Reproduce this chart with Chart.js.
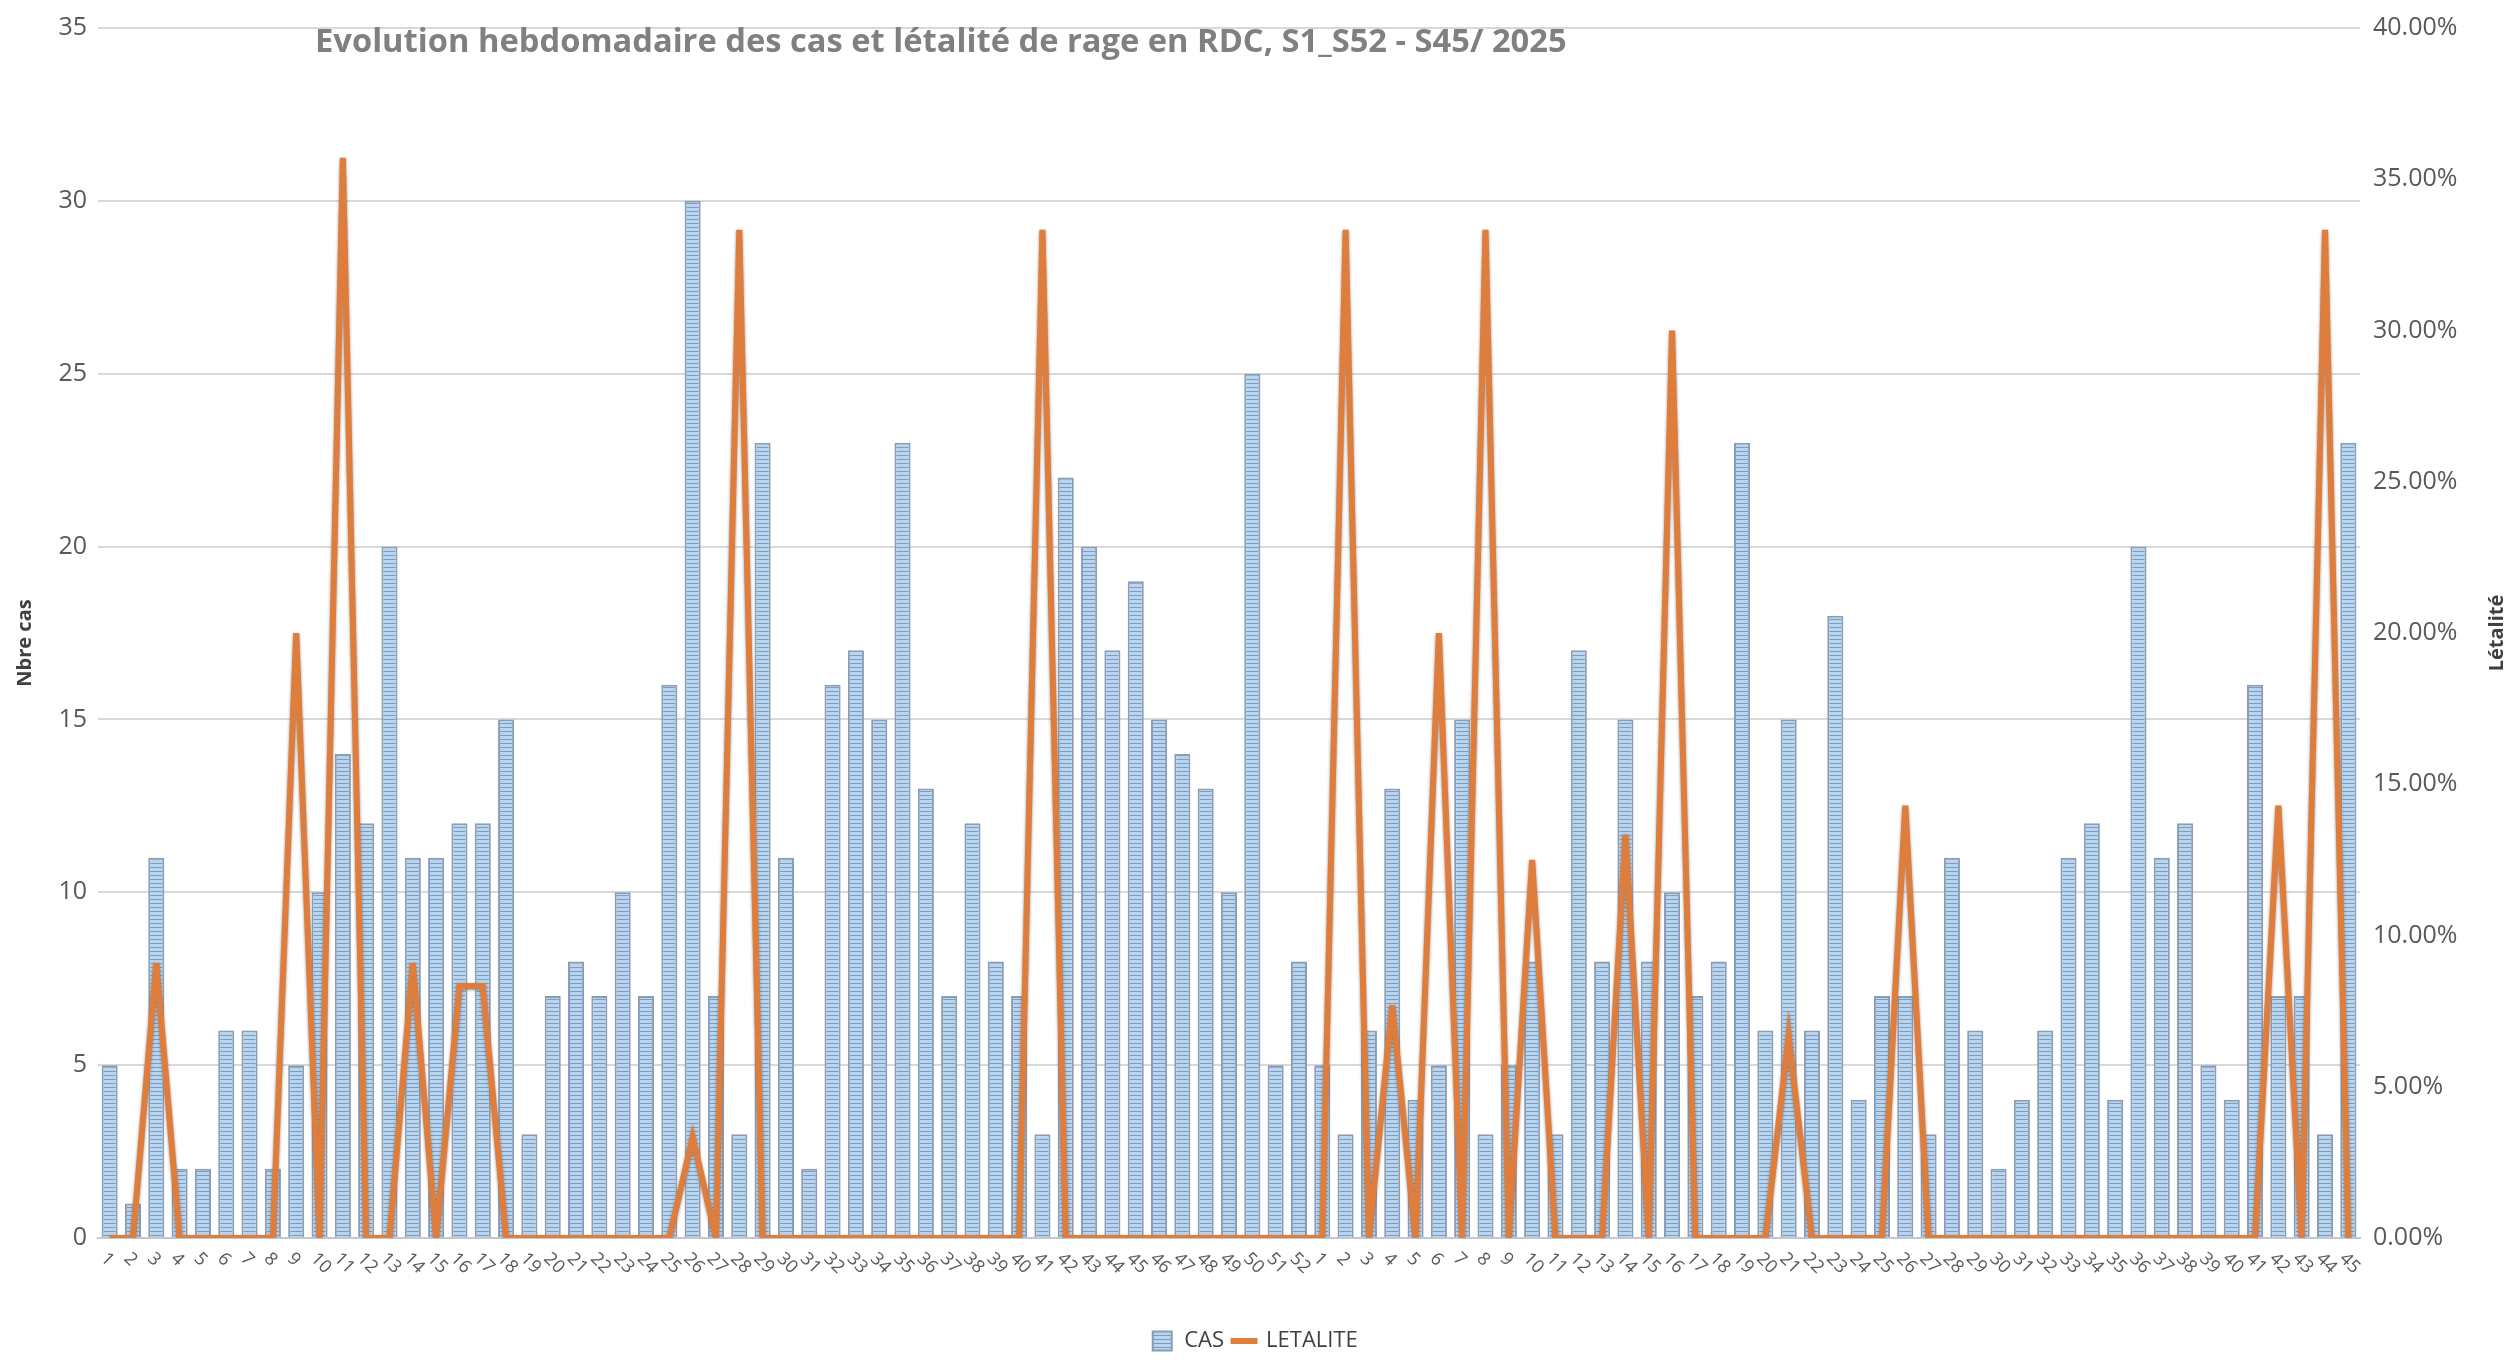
<!DOCTYPE html>
<html>
<head>
<meta charset="utf-8">
<script src="https://cdn.jsdelivr.net/npm/chart.js@4.4.1/dist/chart.umd.min.js"></script>
<style>
html,body{margin:0;padding:0;background:#ffffff;}
#wrap{width:2509px;height:1362px;position:relative;}
</style>
</head>
<body>
<div id="wrap"><canvas id="c" width="2509" height="1362"></canvas></div>
<script>
// ---- DATA ----
const titre = 'Evolution hebdomadaire des cas et létalité de rage en RDC, S1_S52 - S45/ 2025';

const semaines = [
  '1','2','3','4','5','6','7','8','9','10','11','12','13','14','15','16','17','18','19','20',
  '21','22','23','24','25','26','27','28','29','30','31','32','33','34','35','36','37','38','39','40',
  '41','42','43','44','45','46','47','48','49','50','51','52',
  '1','2','3','4','5','6','7','8','9','10','11','12','13','14','15','16','17','18','19','20',
  '21','22','23','24','25','26','27','28','29','30','31','32','33','34','35','36','37','38','39','40',
  '41','42','43','44','45'
];

const cas = [
  5,1,11,2,2,6,6,2,5,10,
  14,12,20,11,11,12,12,15,3,7,
  8,7,10,7,16,30,7,3,23,11,
  2,16,17,15,23,13,7,12,8,7,
  3,22,20,17,19,15,14,13,10,25,
  5,8,5,3,6,13,4,5,15,3,
  5,8,3,17,8,15,8,10,7,8,
  23,6,15,6,18,4,7,7,3,11,
  6,2,4,6,11,12,4,20,11,12,
  5,4,16,7,7,3,23
];

// létalité en %
const letalite = [
  0,0,9.09,0,0,0,0,0,20,0,
  35.71,0,0,9.09,0,8.33,8.33,0,0,0,
  0,0,0,0,0,3.33,0,33.33,0,0,
  0,0,0,0,0,0,0,0,0,0,
  33.33,0,0,0,0,0,0,0,0,0,
  0,0,0,33.33,0,7.69,0,20,0,33.33,
  0,12.5,0,0,0,13.33,0,30,0,0,
  0,0,6.67,0,0,0,0,14.29,0,0,
  0,0,0,0,0,0,0,0,0,0,
  0,0,0,14.29,0,33.33,0
];

const casMax = 35, casStep = 5;
const letMax = 40, letStep = 5;

// ---- STYLE ----
const FONT = '"Open Sans", "DejaVu Sans", sans-serif';
const canvas = document.getElementById('c');
const ctx = canvas.getContext('2d');

const pc = document.createElement('canvas');
pc.width = 6; pc.height = 4;
const pctx = pc.getContext('2d');
pctx.fillStyle = '#b5d5f1'; pctx.fillRect(0, 0, 6, 4);
pctx.fillStyle = '#8299b8'; pctx.fillRect(0, 3, 6, 1);
const barPattern = ctx.createPattern(pc, 'repeat');

const lineShadow = {
  id: 'lineShadow',
  beforeDatasetDraw(chart, args) {
    if (args.index === 1) {
      const c = chart.ctx; c.save();
      c.shadowColor = 'rgba(110,100,95,0.75)'; c.shadowBlur = 3; c.shadowOffsetX = 0; c.shadowOffsetY = 1;
    }
  },
  afterDatasetDraw(chart, args) { if (args.index === 1) chart.ctx.restore(); }
};

const extraText = {
  id: 'extraText',
  afterDraw(chart) {
    const c = chart.ctx;
    const x = chart.scales.x;
    const area = chart.chartArea;
    const midY = (area.top + area.bottom) / 2;
    // x labels, rotated clockwise
    c.save();
    c.font = '18px ' + FONT;
    c.fillStyle = '#595959';
    c.textAlign = 'left';
    c.textBaseline = 'middle';
    semaines.forEach((lab, i) => {
      const px = x.getPixelForValue(i);
      c.save();
      c.translate(px - 6, x.top + 18);
      c.rotate(Math.PI / 4);
      c.fillText(lab, 0, 0);
      c.restore();
    });
    c.restore();
    // title
    c.save();
    c.font = 'bold 100px ' + FONT;
    const w = c.measureText(titre).width;
    const fs = 100 * 1253 / w;
    c.font = 'bold ' + fs.toFixed(1) + 'px ' + FONT;
    c.fillStyle = '#808080';
    c.textAlign = 'left';
    c.textBaseline = 'middle';
    c.fillText(titre, 315, 43);
    c.restore();
    // axis titles (read bottom to top)
    c.save();
    c.font = 'bold 20px ' + FONT;
    c.fillStyle = '#404040';
    c.textAlign = 'center';
    c.textBaseline = 'middle';
    c.save();
    c.translate(25, midY + 10);
    c.rotate(-Math.PI / 2);
    c.fillText('Nbre cas', 0, 0);
    c.restore();
    c.translate(2497, midY);
    c.rotate(-Math.PI / 2);
    c.fillText('Létalité', 0, 0);
    c.restore();
  }
};

new Chart(ctx, {
  data: {
    labels: semaines,
    datasets: [
      {
        type: 'bar',
        label: 'CAS',
        data: cas,
        yAxisID: 'y',
        backgroundColor: barPattern,
        borderColor: '#8a9db5',
        borderWidth: 2,
        barPercentage: 0.69,
        categoryPercentage: 1.0,
        pointStyle: 'rect',
        order: 2
      },
      {
        type: 'line',
        label: 'LETALITE',
        data: letalite,
        yAxisID: 'y1',
        borderColor: '#df7d3d',
        backgroundColor: '#df7d3d',
        borderWidth: 6,
        tension: 0,
        pointRadius: 0,
        pointHoverRadius: 0,
        pointStyle: 'line',
        order: 1
      }
    ]
  },
  options: {
    responsive: false,
    devicePixelRatio: 1,
    animation: false,
    layout: { padding: { top: 24, left: 0, right: 0, bottom: 0 } },
    plugins: {
      title: { display: false },
      tooltip: { enabled: false },
      legend: {
        display: true,
        position: 'bottom',
        labels: {
          usePointStyle: true,
          boxHeight: 19,
          padding: 9,
          color: '#404040',
          font: { family: FONT, size: 22 },
          sort: (a, b) => a.datasetIndex - b.datasetIndex
        }
      }
    },
    scales: {
      x: {
        type: 'category',
        offset: true,
        grid: { display: false, drawTicks: false },
        border: { display: true, color: '#c3c8cf', width: 2 },
        ticks: { display: false },
        afterFit(s) { s.height = 83; }
      },
      y: {
        position: 'left',
        min: 0, max: casMax,
        ticks: { stepSize: casStep, padding: 11, color: '#595959', font: { family: FONT, size: 25 } },
        grid: { color: '#d9d9d9', lineWidth: 2, drawTicks: false },
        border: { display: false },
        afterFit(s) { s.width = 98; }
      },
      y1: {
        position: 'right',
        min: 0, max: letMax,
        ticks: { stepSize: letStep, padding: 13, color: '#595959', font: { family: FONT, size: 25 },
                 callback: v => v.toFixed(2) + '%' },
        grid: { drawOnChartArea: false, drawTicks: false },
        border: { display: false },
        afterFit(s) { s.width = 149; }
      }
    }
  },
  plugins: [lineShadow, extraText]
});
</script>
</body>
</html>
